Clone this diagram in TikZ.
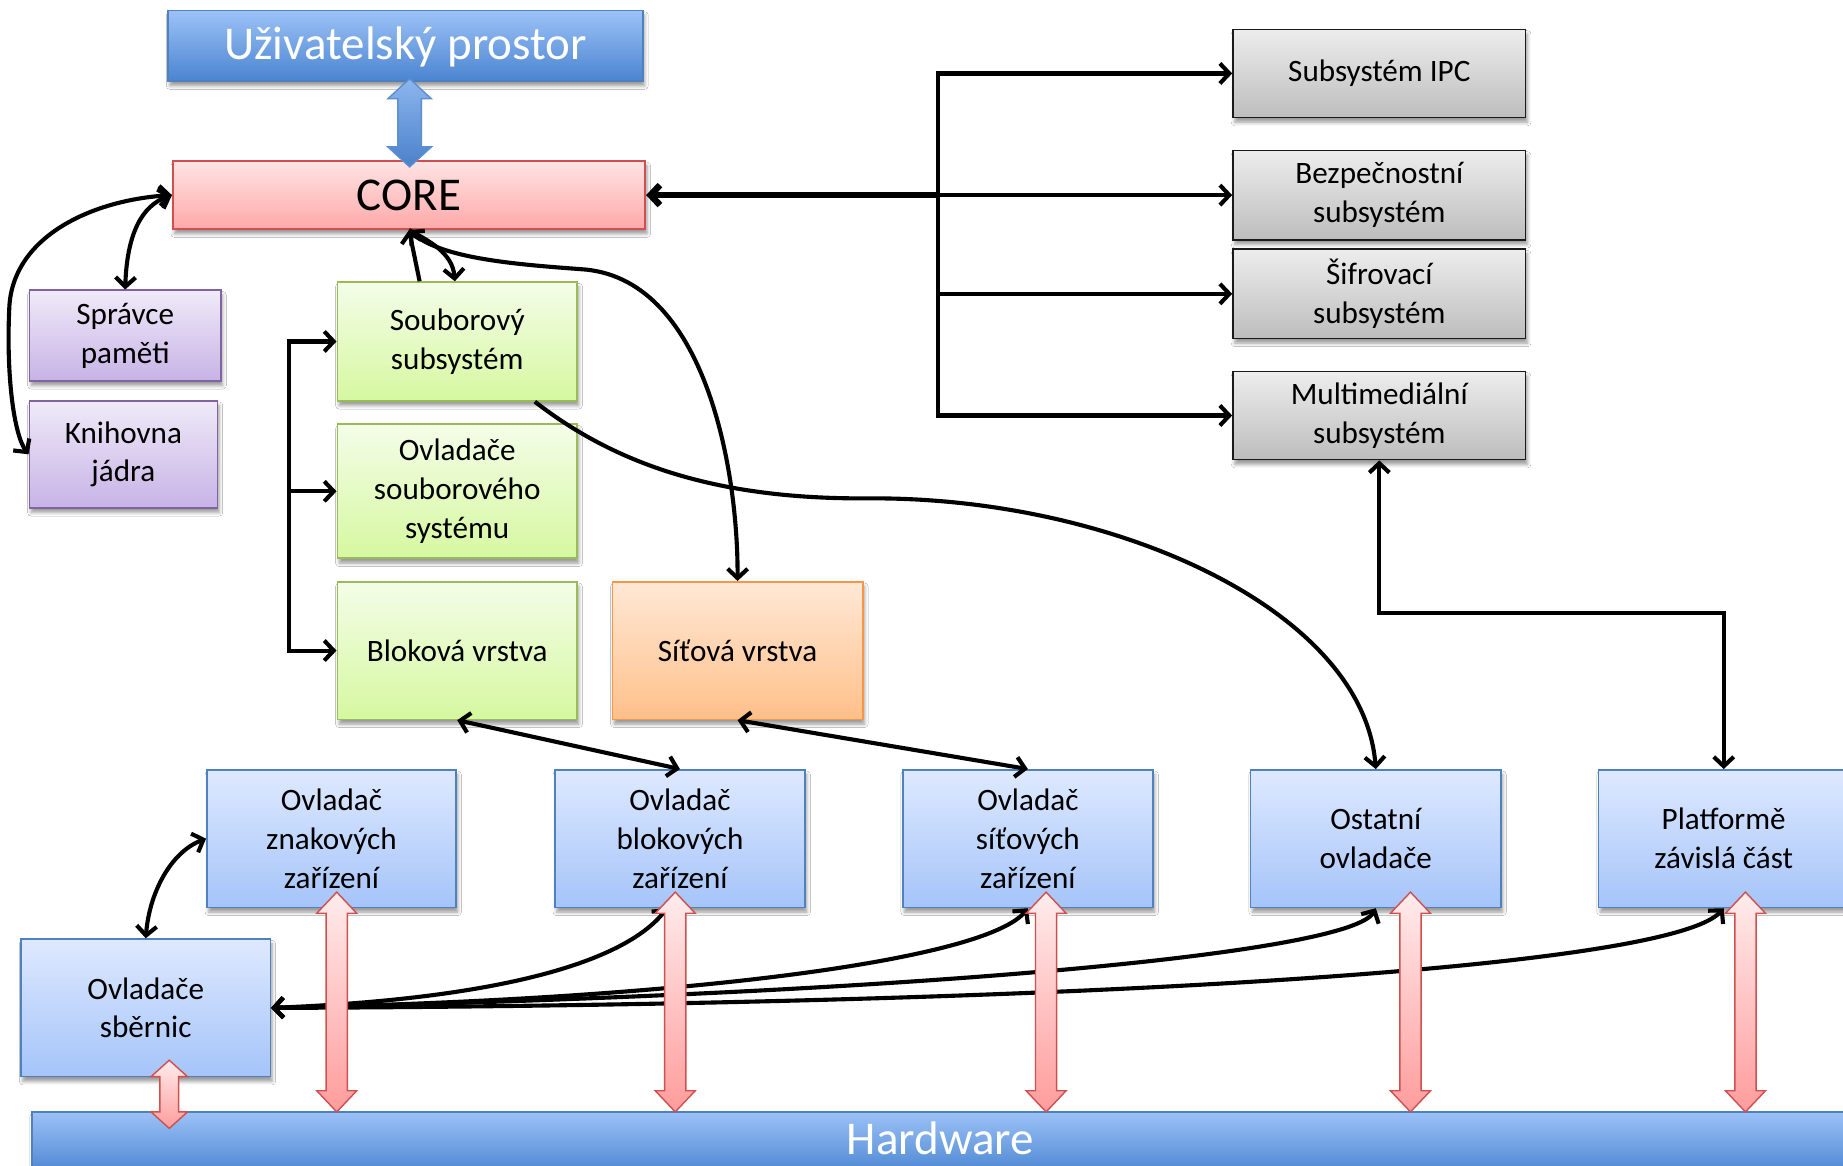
\documentclass[tikz,border=0pt]{standalone}
\usepackage{fontspec}
\setmainfont{Carlito}
\usetikzlibrary{arrows.meta,shadows.blur}
\definecolor{uzt}{HTML}{9CC2F7}\definecolor{uzb}{HTML}{4A84D0}\definecolor{uzd}{HTML}{4F81BD}
\definecolor{cot}{HTML}{FFE4E4}\definecolor{cob}{HTML}{FFA8A8}\definecolor{cod}{HTML}{D05050}
\definecolor{put}{HTML}{F0EAF8}\definecolor{pub}{HTML}{C7B3E6}\definecolor{pud}{HTML}{8064A2}
\definecolor{grt}{HTML}{F4FDE8}\definecolor{grb}{HTML}{D6F8A0}\definecolor{grd}{HTML}{9BBB59}
\definecolor{ort}{HTML}{FFE8D6}\definecolor{orb}{HTML}{FFC08A}\definecolor{ord}{HTML}{F79646}
\definecolor{gyt}{HTML}{EDEDED}\definecolor{gyb}{HTML}{BDBDBD}\definecolor{gyd}{HTML}{1A1A1A}
\definecolor{lbt}{HTML}{DEE9FF}\definecolor{lbb}{HTML}{A5C4F9}\definecolor{lbd}{HTML}{4F81BD}
\definecolor{rat}{HTML}{FFECEC}\definecolor{rab}{HTML}{FF9C9C}\definecolor{rad}{HTML}{D05050}
\definecolor{bat}{HTML}{8DB6EE}\definecolor{bab}{HTML}{4A80CA}\definecolor{bad}{HTML}{5B8FD0}
\newcommand\dblarrow[7]{%
 \shade[#7] (#1,#2) -- ({#1+#4},{#2+#6}) -- ({#1+#5},{#2+#6}) -- ({#1+#5},{#3-#6}) -- ({#1+#4},{#3-#6}) -- (#1,#3) -- ({#1-#4},{#3-#6}) -- ({#1-#5},{#3-#6}) -- ({#1-#5},{#2+#6}) -- ({#1-#4},{#2+#6}) -- cycle;}
\tikzset{
  x=1pt, y=-1pt,
  >={Straight Barb[length=8pt,width=17pt]},
  box/.style={draw, line width=1.4pt, align=center, inner sep=0pt,
    font=\fontsize{26.5}{33}\selectfont,
    blur shadow={shadow xshift=1.5pt, shadow yshift=-4pt, shadow blur radius=3pt, shadow opacity=40}},
  bigbox/.style={box, font=\fontsize{40}{44}\selectfont},
  bluebig/.style={bigbox, draw=uzd, top color=uzt, bottom color=uzb, text=white},
  corebox/.style={bigbox, draw=cod, top color=cot, bottom color=cob},
  purplebox/.style={box, draw=pud, top color=put, bottom color=pub},
  greenbox/.style={box, draw=grd, top color=grt, bottom color=grb},
  orangebox/.style={box, draw=ord, top color=ort, bottom color=orb},
  greybox/.style={box, draw=gyd, top color=gyt, bottom color=gyb},
  lightbox/.style={box, draw=lbd, top color=lbt, bottom color=lbb},
  conn/.style={line width=3.5pt, black},
  redarrow/.style={top color=rat, bottom color=rab, draw=rad, line width=1.2pt},
  bluearrow/.style={top color=bat, bottom color=bab, draw=bad, line width=1.2pt},
}
\begin{document}
\begin{tikzpicture}
\useasboundingbox (0,0) rectangle (1568,992);
\clip (0,0) rectangle (1568,992);
\fill[white] (0,0) rectangle (1568,992);

% boxes
\node[bluebig, minimum width=1546pt, minimum height=54pt, text depth=9pt] (hw) at (800,973) {Hardware};
\node[bluebig, minimum width=404pt, minimum height=60pt, text depth=5pt] (uziv) at (345,39) {Uživatelský prostor};
\node[corebox, minimum width=402pt, minimum height=58pt] (core) at (348,166) {CORE};
\node[purplebox, minimum width=163pt, minimum height=77pt] (spravce) at (106.5,285.5) {Správce\\paměti};
\node[purplebox, minimum width=160pt, minimum height=91pt] (knih) at (105,386.5) {Knihovna\\jádra};
\node[greenbox, minimum width=204pt, minimum height=101pt] (soub) at (389,290.5) {Souborový\\subsystém};
\node[greenbox, minimum width=204pt, minimum height=114pt] (ovlsoub) at (389,418) {Ovladače\\souborového\\systému};
\node[greenbox, minimum width=204pt, minimum height=117pt] (blok) at (389,553.5) {Bloková vrstva};
\node[orangebox, minimum width=213pt, minimum height=117pt] (sit) at (627.5,553.5) {Síťová vrstva};
\node[greybox, minimum width=249pt, minimum height=75pt] (ipc) at (1173.5,62.5) {Subsystém IPC};
\node[greybox, minimum width=249pt, minimum height=76pt] (bezp) at (1173.5,166) {Bezpečnostní\\subsystém};
\node[greybox, minimum width=249pt, minimum height=76pt] (sifr) at (1173.5,250) {Šifrovací\\subsystém};
\node[greybox, minimum width=249pt, minimum height=75pt] (multi) at (1173.5,353.5) {Multimediální\\subsystém};
\node[lightbox, minimum width=212pt, minimum height=117pt] (oz) at (282,713.5) {Ovladač\\znakových\\zařízení};
\node[lightbox, minimum width=213pt, minimum height=117pt] (ob) at (578.5,713.5) {Ovladač\\blokových\\zařízení};
\node[lightbox, minimum width=213pt, minimum height=117pt] (os) at (874.5,713.5) {Ovladač\\síťových\\zařízení};
\node[lightbox, minimum width=213pt, minimum height=117pt] (ost) at (1170.5,713.5) {Ostatní\\ovladače};
\node[lightbox, minimum width=213pt, minimum height=117pt] (plat) at (1466.5,713.5) {Platformě\\závislá část};
\node[lightbox, minimum width=212pt, minimum height=117pt] (sber) at (124,857.5) {Ovladače\\sběrnic};

% right trunk
\coordinate (trunk) at (798,0);
\draw[line width=5.5pt, <-] (core.east) -- (core.east -| trunk);
\draw[conn, <->] (ipc.west) -- (ipc.west -| trunk) -- (multi.west -| trunk) -- (multi.west);
\draw[conn, ->] (core.east -| trunk) -- (bezp.west);
\draw[conn, ->] (sifr.west -| trunk) -- (sifr.west);
\draw[conn, <->] (multi.south) -- ++(0,130) -| (plat.north);

% left bracket
\coordinate (br) at (246,0);
\draw[conn, <->] (soub.west) -- (soub.west -| br) -- (blok.west -| br) -- (blok.west);
\draw[conn, ->] (ovlsoub.west -| br) -- (ovlsoub.west);

% core links
\draw[conn, <->] (core.west) .. controls (120,175) and (108,200) .. (spravce.north);
\draw[conn, <->] (core.west) .. controls (80,170) and (12,200) .. (8,260) .. controls (5,320) and (12,370) .. (knih.west);
\draw[conn, <-] (core.south) -- ([xshift=-32pt]soub.north);
\draw[conn, ->] (core.south) .. controls (365,205) and (385,215) .. ([xshift=-2pt]soub.north);
\draw[conn, <->] (core.south) .. controls (375,220) and (440,225) .. (494,229) .. controls (600,235) and (628,400) .. (sit.north);
\draw[conn, ->] ([xshift=66pt]soub.south) .. controls (530,400) and (620,425) .. (740,424) .. controls (950,423) and (1160,520) .. (ost.north);

% layer to drivers
\draw[conn, <->] (blok.south) -- (ob.north);
\draw[conn, <->] (sit.south) -- (os.north);
\draw[conn, <->] (oz.west) .. controls (145,725) and (127,760) .. (sber.north);
\draw[conn, <->] (sber.east) .. controls (420,850) and (530,820) .. ([xshift=-11pt]ob.south);
\draw[conn, <->] (sber.east) .. controls (600,850) and (840,815) .. (os.south);
\draw[conn, <->] (sber.east) .. controls (800,845) and (1150,810) .. (ost.south);
\draw[conn, <->] (sber.east) .. controls (900,855) and (1420,825) .. (plat.south);

% block arrows
\dblarrow{348.5}{67}{142}{18.5}{10}{17}{bluearrow}
\dblarrow{286.5}{759}{946}{17}{9}{18}{redarrow}
\dblarrow{574.5}{759}{946}{17}{9}{18}{redarrow}
\dblarrow{890}{759}{946}{17}{9}{18}{redarrow}
\dblarrow{1200}{759}{946}{17}{9}{18}{redarrow}
\dblarrow{1485}{759}{946}{17}{9}{18}{redarrow}
\dblarrow{144}{902}{960}{15.5}{8}{14}{redarrow}
\end{tikzpicture}
\end{document}
